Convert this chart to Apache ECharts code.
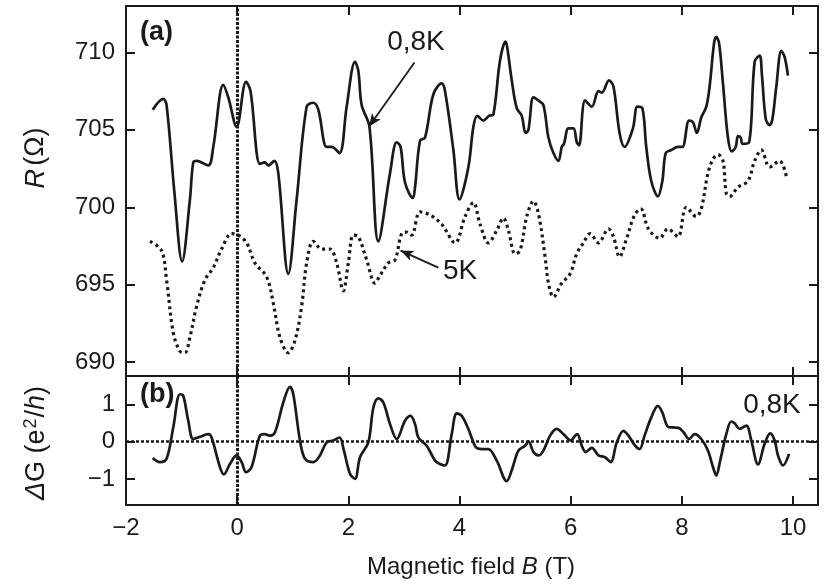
<!DOCTYPE html>
<html>
<head>
<meta charset="utf-8">
<script src="https://cdn.jsdelivr.net/npm/echarts@6/dist/echarts.min.js"></script>
<style>html,body{margin:0;padding:0;background:#fff}#c{width:825px;height:586px}</style>
</head>
<body>
<div id="c"></div>
<script>
// ---- data ----
var xTicks = [-2, 0, 2, 4, 6, 8, 10];
var rTicks = [690, 695, 700, 705, 710];
var gTicks = [-1, 0, 1];

// panel (a): R at 0.8 K  [B (T), R (Ohm)]
var r08 = [[-1.52,706.3],[-1.33,707.0],[-1.27,706.6],[-1.13,701.0],[-0.99,696.5],[-0.85,700.5],[-0.79,702.9],[-0.73,703.0],[-0.52,702.7],[-0.43,703.9],[-0.25,707.9],[-0.16,707.1],[-0.01,705.2],[0.16,708.1],[0.24,707.5],[0.41,702.8],[0.50,702.9],[0.56,702.7],[0.67,703.0],[0.74,702.2],[0.92,695.7],[1.07,700.5],[1.25,706.5],[1.37,706.75],[1.46,706.3],[1.61,703.9],[1.70,703.9],[1.84,703.5],[1.97,706.5],[2.12,709.4],[2.18,708.8],[2.24,706.6],[2.38,705.2],[2.54,697.8],[2.75,702.2],[2.87,704.2],[2.94,703.9],[3.02,701.6],[3.16,700.6],[3.20,701.3],[3.29,704.3],[3.38,704.5],[3.53,707.3],[3.68,708.0],[3.74,707.5],[3.89,703.7],[4.0,700.5],[4.16,702.6],[4.25,705.2],[4.32,705.9],[4.43,705.6],[4.53,705.9],[4.61,706.0],[4.73,709.5],[4.83,710.7],[4.86,710.3],[4.94,708.2],[5.03,706.4],[5.12,705.9],[5.19,704.8],[5.24,705.0],[5.33,707.1],[5.42,706.9],[5.51,706.6],[5.60,704.5],[5.69,703.5],[5.78,703.0],[5.84,703.9],[5.88,704.1],[5.96,705.1],[6.05,705.1],[6.11,704.2],[6.15,704.0],[6.26,706.9],[6.38,706.5],[6.50,707.5],[6.56,707.4],[6.69,708.2],[6.77,707.8],[6.88,704.8],[6.97,703.9],[7.12,705.1],[7.20,706.5],[7.29,706.4],[7.36,703.9],[7.45,701.7],[7.57,700.7],[7.65,701.7],[7.71,703.5],[7.81,703.7],[7.93,703.9],[8.01,703.9],[8.13,705.6],[8.20,705.5],[8.27,704.8],[8.35,705.8],[8.44,706.5],[8.50,707.8],[8.58,710.6],[8.62,711.0],[8.67,710.6],[8.74,708.0],[8.83,704.5],[8.90,703.6],[8.97,703.9],[9.01,704.6],[9.06,704.5],[9.09,704.1],[9.21,704.2],[9.31,709.4],[9.40,709.8],[9.44,708.6],[9.51,705.7],[9.58,705.3],[9.63,705.7],[9.70,707.8],[9.79,710.1],[9.85,709.7],[9.91,708.5]];

// panel (a): R at 5 K
var r5 = [[-1.57,697.8],[-1.36,697.2],[-1.27,695.3],[-1.15,691.9],[-1.03,690.7],[-0.94,690.6],[-0.85,691.6],[-0.73,693.6],[-0.58,695.3],[-0.43,696.1],[-0.28,697.3],[-0.10,698.3],[0.02,698.2],[0.17,697.7],[0.32,696.4],[0.53,695.5],[0.65,693.8],[0.77,691.6],[0.92,690.6],[1.04,691.4],[1.16,693.6],[1.25,696.4],[1.37,697.8],[1.52,697.3],[1.67,697.3],[1.79,696.4],[1.91,694.6],[2.00,696.4],[2.09,698.2],[2.18,698.1],[2.33,696.6],[2.48,695.1],[2.57,695.6],[2.72,696.4],[2.84,696.6],[2.96,698.3],[3.05,698.4],[3.14,698.2],[3.29,699.7],[3.47,699.5],[3.68,698.9],[3.92,697.7],[4.10,699.4],[4.25,700.3],[4.37,698.9],[4.52,697.7],[4.67,698.5],[4.79,699.3],[4.88,698.5],[5.00,697.0],[5.09,697.2],[5.21,699.4],[5.33,700.4],[5.42,699.6],[5.54,696.8],[5.60,695.1],[5.69,694.2],[5.84,695.1],[5.99,695.7],[6.11,697.0],[6.23,697.7],[6.35,698.3],[6.50,697.7],[6.68,698.6],[6.77,698.1],[6.88,696.8],[7.00,697.9],[7.15,699.5],[7.26,699.9],[7.40,698.6],[7.60,698.0],[7.75,698.6],[7.93,698.1],[8.08,700.0],[8.26,699.4],[8.35,699.9],[8.47,702.2],[8.56,703.1],[8.65,703.4],[8.74,703.0],[8.80,700.9],[8.86,700.7],[9.01,701.3],[9.19,701.7],[9.31,703.0],[9.43,703.7],[9.58,702.6],[9.76,703.0],[9.88,702.0]];

// panel (b): Delta G at 0.8 K  [B (T), dG (e^2/h)]
var dG = [[-1.52,-0.44],[-1.39,-0.55],[-1.27,-0.46],[-1.15,0.38],[-1.03,1.27],[-0.97,1.23],[-0.88,0.56],[-0.79,0.07],[-0.67,0.13],[-0.52,0.2],[-0.46,0.11],[-0.31,-0.68],[-0.24,-0.88],[-0.13,-0.6],[-0.01,-0.37],[0.08,-0.55],[0.16,-0.82],[0.26,-0.68],[0.41,0.16],[0.50,0.2],[0.59,0.16],[0.68,0.25],[0.83,1.05],[0.95,1.47],[1.01,1.27],[1.13,0.03],[1.22,-0.46],[1.37,-0.55],[1.49,-0.37],[1.61,-0.02],[1.73,0.03],[1.84,0.11],[1.92,-0.24],[2.03,-0.86],[2.12,-1.0],[2.21,-0.42],[2.36,-0.02],[2.45,0.91],[2.54,1.16],[2.63,1.05],[2.75,0.47],[2.87,0.07],[3.02,0.56],[3.12,0.69],[3.20,0.47],[3.26,0.11],[3.41,-0.11],[3.56,-0.51],[3.65,-0.6],[3.74,-0.64],[3.86,0.2],[3.95,0.76],[4.04,0.69],[4.16,0.34],[4.25,-0.02],[4.31,-0.17],[4.45,-0.2],[4.52,-0.2],[4.67,-0.51],[4.85,-1.06],[4.94,-0.77],[5.06,-0.24],[5.18,-0.11],[5.24,0.01],[5.33,-0.28],[5.42,-0.37],[5.51,-0.24],[5.63,0.16],[5.75,0.34],[5.87,0.2],[6.0,0.03],[6.08,0.16],[6.12,0.2],[6.20,-0.11],[6.27,-0.28],[6.38,-0.17],[6.50,-0.37],[6.62,-0.42],[6.72,-0.55],[6.83,-0.02],[6.95,0.29],[7.04,0.16],[7.16,-0.11],[7.24,-0.2],[7.33,0.16],[7.45,0.65],[7.57,0.96],[7.65,0.78],[7.75,0.4],[7.84,0.38],[7.94,0.37],[8.03,0.25],[8.13,0.07],[8.23,0.2],[8.35,0.07],[8.47,-0.24],[8.56,-0.68],[8.62,-0.91],[8.69,-0.51],[8.80,0.2],[8.89,0.54],[8.95,0.49],[9.04,0.34],[9.16,0.43],[9.25,0.03],[9.37,-0.61],[9.49,-0.06],[9.59,0.22],[9.67,0.03],[9.73,-0.37],[9.82,-0.64],[9.93,-0.33]];

// annotation arrows (data coordinates)
var arrow08 = [[3.19, 709.35], [2.37, 705.2]];
var arrow5K = [[3.62, 696.1], [2.94, 697.2]];

// ---- chart ----
var FONT = '"Liberation Sans", Arial, Helvetica, sans-serif';
var INK = '#1a1a1a';
var minus = function (v) { return String(v).replace('-', '\u2212'); };

function xAx(grid, pos, labels) {
  return {
    type: 'value', gridIndex: grid, position: pos, min: -2, max: 10.45,
    axisLine: { show: true, onZero: false, lineStyle: { color: INK, width: 2 } },
    axisTick: { show: true, inside: true, length: 9, lineStyle: { color: INK, width: 2 }, customValues: xTicks },
    axisLabel: { show: labels, customValues: xTicks, formatter: minus, fontFamily: FONT, fontSize: 24, color: INK, margin: 11 },
    splitLine: { show: false }
  };
}
function yAx(grid, pos, min, max, ticks, labels) {
  return {
    type: 'value', gridIndex: grid, position: pos, min: min, max: max,
    axisLine: { show: true, onZero: false, lineStyle: { color: INK, width: 2 } },
    axisTick: { show: true, inside: true, length: 9, lineStyle: { color: INK, width: 2 }, customValues: ticks },
    axisLabel: { show: labels, customValues: ticks, formatter: minus, fontFamily: FONT, fontSize: 24, color: INK, margin: 11 },
    splitLine: { show: false }
  };
}

var dotV = { color: INK, width: 3, type: [3, 1.5] };

var option = {
  animation: false,
  backgroundColor: '#fff',
  grid: [
    { left: 126, right: 7, top: 6, height: 370 },
    { left: 126, right: 7, top: 376, height: 129 }
  ],
  xAxis: [xAx(0, 'bottom', false), xAx(0, 'top', false), xAx(1, 'bottom', true), xAx(1, 'top', false)],
  yAxis: [
    yAx(0, 'left', 689.1, 713, rTicks, true), yAx(0, 'right', 689.1, 713, rTicks, false),
    yAx(1, 'left', -1.7, 1.76, gTicks, true), yAx(1, 'right', -1.7, 1.76, gTicks, false)
  ],
  series: [
    {
      type: 'line', xAxisIndex: 0, yAxisIndex: 0, data: r5, smooth: 0.35, showSymbol: false,
      lineStyle: { color: INK, width: 3.2, type: [3, 3.5] },
      markLine: {
        silent: true, symbol: 'none', label: { show: false },
        lineStyle: dotV,
        data: [{ xAxis: 0 }]
      }
    },
    {
      type: 'line', xAxisIndex: 0, yAxisIndex: 0, data: r08, smooth: 0.35, showSymbol: false,
      lineStyle: { color: INK, width: 2.7 },
      markLine: {
        silent: true, symbol: ['none', 'arrow'], symbolSize: [8, 13], label: { show: false },
        lineStyle: { color: INK, width: 1.8, type: 'solid' },
        data: [
          [{ coord: arrow08[0] }, { coord: arrow08[1] }],
          [{ coord: arrow5K[0] }, { coord: arrow5K[1] }]
        ]
      }
    },
    {
      type: 'line', xAxisIndex: 2, yAxisIndex: 2, data: dG, smooth: 0.35, showSymbol: false,
      lineStyle: { color: INK, width: 2.7 },
      markLine: {
        silent: true, symbol: 'none', label: { show: false },
        lineStyle: dotV,
        data: [{ xAxis: 0 }, { yAxis: 0, lineStyle: { color: INK, width: 2.5, type: [3, 2] } }]
      }
    }
  ],
  graphic: [
    { type: 'text', left: 140, top: 19, style: { text: '(a)', font: 'bold 27px ' + FONT, fill: INK } },
    { type: 'text', left: 140, top: 381, style: { text: '(b)', font: 'bold 27px ' + FONT, fill: INK } },
    { type: 'text', x: 416, y: 42, style: { text: '0,8K', font: '28px ' + FONT, fill: INK, align: 'center', verticalAlign: 'middle' } },
    { type: 'text', x: 460, y: 271, style: { text: '5K', font: '28px ' + FONT, fill: INK, align: 'center', verticalAlign: 'middle' } },
    { type: 'text', x: 772, y: 405, style: { text: '0,8K', font: '28px ' + FONT, fill: INK, align: 'center', verticalAlign: 'middle' } },
    {
      type: 'text', x: 36, y: 158, rotation: Math.PI / 2,
      style: {
        text: '{i|R} {n|(\u03A9)}', align: 'center', verticalAlign: 'middle',
        rich: { i: { font: 'italic 27px ' + FONT, fill: INK }, n: { font: '27px ' + FONT, fill: INK } }
      }
    },
    {
      type: 'text', x: 36, y: 443, rotation: Math.PI / 2,
      style: {
        text: '{i|\u0394}{n|G (e}{s|2}{n|/}{i|h}{n|)}', align: 'center', verticalAlign: 'middle',
        rich: {
          i: { font: 'italic 27px ' + FONT, fill: INK, verticalAlign: 'bottom' },
          n: { font: '27px ' + FONT, fill: INK, verticalAlign: 'bottom' },
          s: { font: '18px ' + FONT, fill: INK, verticalAlign: 'top', padding: [0, 1, 10, 1] }
        }
      }
    },
    {
      type: 'text', x: 471, y: 567,
      style: {
        text: '{n|Magnetic field }{i|B}{n| (T)}', align: 'center', verticalAlign: 'middle',
        rich: { i: { font: 'italic 24px ' + FONT, fill: INK }, n: { font: '24px ' + FONT, fill: INK } }
      }
    }
  ]
};

var chart = echarts.init(document.getElementById('c'), null, { renderer: 'canvas' });
chart.setOption(option);
</script>
</body>
</html>
